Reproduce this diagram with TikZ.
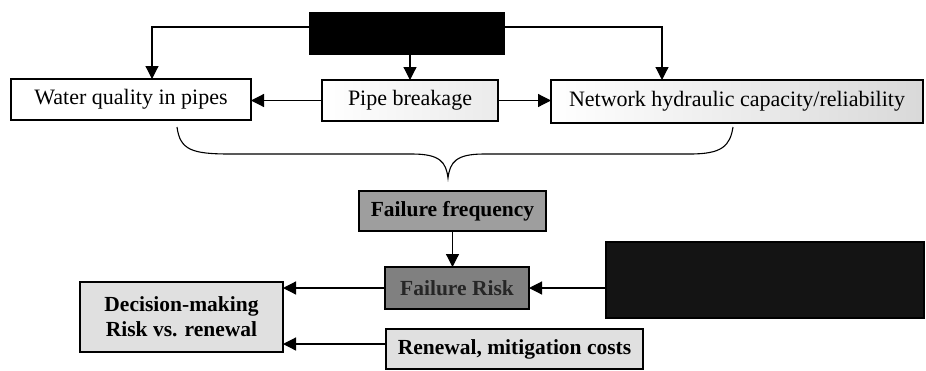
\documentclass[tikz,border=0pt]{standalone}
\usepackage{fontspec}
\setmainfont{Liberation Serif}
\usetikzlibrary{arrows.meta}
\begin{document}
\begin{tikzpicture}[x=1pt,y=-1pt,
  every node/.style={inner sep=0pt, outer sep=0pt},
  box/.style={draw=black, line width=1.3pt, minimum height=41pt, font=\fontsize{22}{25}\selectfont},
  bbox/.style={box, font=\fontsize{21.5}{24}\selectfont\bfseries},
  arr/.style={line width=1.2pt, -{Triangle[length=13pt,width=13pt]}},
  ln/.style={line width=1.1pt}]
\useasboundingbox (0,0) rectangle (926,370);
\fill[white] (0,0) rectangle (926,370);
% top row
\node[box, fill=black, minimum width=194pt] (top) at (407,33.5) {};
\node[box, fill=white, minimum width=240pt] (water) at (131,99.5) {Water quality in pipes};
\node[box, left color=white, right color=black!8, minimum width=176pt] (pipe) at (410,100.5) {Pipe breakage};
\node[box, left color=white, right color=black!15, minimum width=372pt, minimum height=43pt] (net) at (737,101.5) {Network hydraulic capacity/reliability};
% lower
\node[bbox, fill=black!38, minimum width=187pt, minimum height=40pt] (ff) at (452.5,211) {Failure frequency};
\node[bbox, fill=black!50, text=black!85, minimum width=144pt, minimum height=42pt] (fr) at (457,288) {Failure Risk};
\node[box, fill=black!92, minimum width=318pt, minimum height=76pt] (dark) at (765,280) {};
\node[bbox, fill=black!12, minimum width=203pt, minimum height=70pt, align=center, font=\fontsize{21.5}{25}\selectfont\bfseries] (dec) at (181.5,317) {Decision-making\\Risk vs. renewal};
\node[bbox, fill=black!12, minimum width=257pt, minimum height=40pt] (ren) at (514.5,349) {Renewal, mitigation costs};
% connectors
\draw[arr] ([yshift=-14pt]top.north west) -| ([xshift=21pt]water.north);
\draw[arr] ([yshift=-14pt]top.north east) -| ([xshift=-75pt]net.north);
\draw[arr] (top.south -| pipe.north) -- (pipe.north);
\draw[arr] (pipe.west) -- (water.east |- pipe.west);
\draw[arr] (pipe.east) -- (net.west |- pipe.east);
% brace
\draw[ln] (177,127) .. controls (180,150) and (192,154) .. (230,154) -- (412,154)
  .. controls (440,154) and (446,162) .. (448,178)
  .. controls (450,162) and (456,154) .. (484,154) -- (690,154)
  .. controls (722,154) and (730,146) .. (733,127);
\draw[arr] (ff.south) -- (ff.south |- fr.north);
\draw[arr] (fr.east -| dark.west) -- (fr.east);
\draw[arr] (fr.west) -- (fr.west -| dec.east);
\draw[arr] ([yshift=5pt]ren.west) -- ([yshift=5pt]ren.west -| dec.east);
\end{tikzpicture}
\end{document}
